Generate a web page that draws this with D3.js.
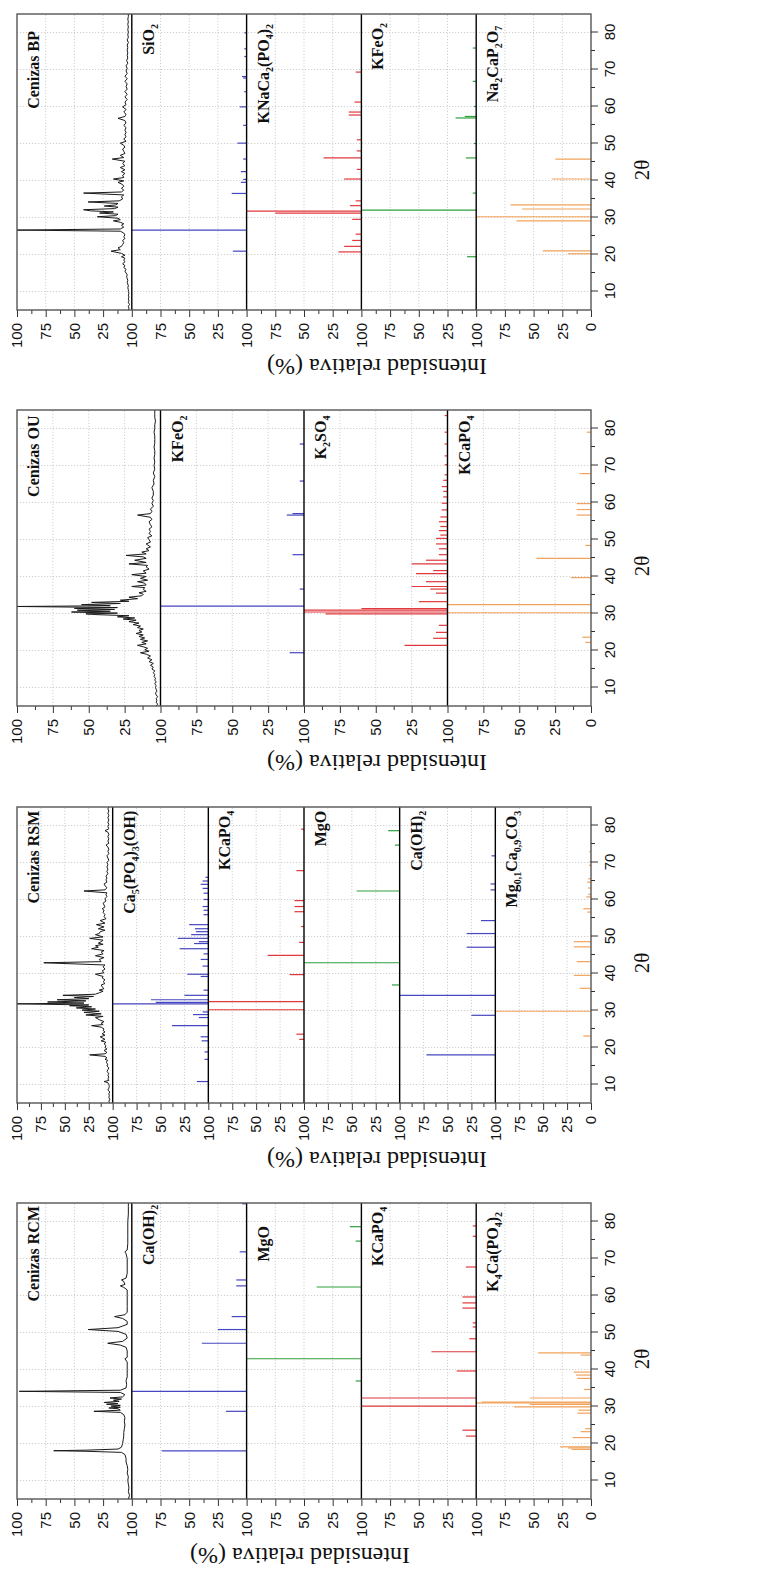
<!DOCTYPE html>
<html>
<head>
<meta charset="utf-8">
<script src="https://cdn.jsdelivr.net/npm/d3@7.9.0/dist/d3.min.js"></script>
<style>
  body { margin: 0; background: #fff; }
  svg { display: block; font-family: "Liberation Serif", "Times New Roman", serif; }
  .grid line { stroke: #c4c4c4; stroke-width: 0.8; stroke-dasharray: 1.2, 1.8; }
  .axis path { display: none; }
  .axis line { stroke: #333; }
  .axis text { font-size: 15px; fill: #111; }
</style>
</head>
<body>
<svg id="chart" width="762" height="1570"></svg>
<script>
// ---- data: [2theta, relative intensity %] ----

// Cenizas BP
const bpPattern = [[5,3],[5.5,2.5],[6,3],[6.5,2],[7,3],[7.5,2.5],[8,3],[8.5,2.5],[9,3],[9.5,2.5],[10,3],[10.5,3],[11,3.5],[11.5,3],[12,3.5],[12.5,4],[13,3.5],[13.5,4],[14,4.5],[14.5,4],[15,5],[15.5,6],[16,5],[16.5,7],[17,6],[17.5,8],[18,6],[18.5,7],[19,6],[19.4,9],[19.8,6],[20.3,9],[20.9,18],[21.3,10],[21.8,12],[22.2,9],[22.7,8],[23.2,7],[23.8,8],[24.3,6],[24.8,7],[25.3,6],[25.8,7],[26.3,10],[26.6,100],[26.9,10],[27.4,7],[27.9,9],[28.3,7],[28.7,10],[29.1,16],[29.4,10],[29.8,12],[30.2,30],[30.5,14],[30.9,12],[31.2,28],[31.5,16],[31.8,36],[32.1,42],[32.4,15],[32.8,12],[33.1,24],[33.4,14],[33.8,12],[34.2,38],[34.5,11],[35,8],[35.6,9],[36.1,7],[36.6,42],[36.9,9],[37.4,7],[37.9,9],[38.4,7],[38.9,8],[39.5,12],[39.9,7],[40.4,16],[40.8,7],[41.4,8],[41.9,6],[42.4,9],[42.9,6],[43.5,10],[44,6],[44.6,8],[45.2,6],[45.8,17],[46.2,7],[46.8,10],[47.3,6],[47.9,7],[48.5,8],[49,6],[49.5,7],[50.1,10],[50.6,5],[51.2,7],[51.8,5],[52.4,6],[53,5],[53.6,6],[54.3,5],[54.9,7],[55.5,5],[56.2,6],[56.8,12],[57.3,6],[57.9,5],[58.5,7],[59.2,5],[59.9,8],[60.5,5],[61.2,6],[61.9,4],[62.6,6],[63.3,4],[64,6],[64.7,4],[65.4,5],[66.1,4],[66.8,6],[67.5,4],[68.2,6],[68.9,4],[69.6,5],[70.3,4],[71,5],[71.7,3.5],[72.4,4.5],[73.1,3.5],[73.8,4],[74.5,3.5],[75.2,4],[75.9,3.5],[76.6,4],[77.3,3],[78,4],[78.7,3],[79.4,3.5],[80.1,3],[80.8,3.5],[81.5,3],[82.2,3.5],[82.9,3],[83.6,3.5],[84.3,3],[85,3]];
const bpSiO2 = [[20.9,12],[26.6,100],[36.5,13],[39.5,5],[40.3,3],[42.4,5],[45.8,3],[50.1,8],[54.9,3],[59.9,6],[64.0,2],[67.7,3],[68.1,4],[73.5,2],[75.6,2],[79.9,2]];
const bpKNaCa = [[20.7,20],[22.2,15],[23.8,8],[25.5,5],[29.5,8],[31.2,75],[31.7,100],[33.2,10],[34.5,5],[40.4,15],[43.0,4],[46.1,33],[48.0,4],[51.0,4],[57.7,11],[58.5,11],[61.2,6],[69.3,5]];
const bpKFeO2 = [[19.4,8],[32.0,100],[36.6,3],[46.1,9],[50.0,2],[56.9,18],[57.3,10],[60.0,2],[66.8,3],[75.8,3]];
const bpNaCaP = [[20.2,20],[21.0,42],[29.1,65],[30.2,100],[32.3,60],[33.4,70],[40.4,34],[45.8,31]];

// Cenizas OU
const ouPattern = [[5,3],[5.5,2],[6,3],[6.5,2.5],[7,3],[7.5,2],[8,3],[8.5,3.5],[9,2.5],[9.5,3],[10,3.5],[10.5,3],[11,4],[11.5,3],[12,4],[12.5,3.5],[13,4.5],[13.5,4],[14,5],[14.5,4],[15,6],[15.5,5],[16,7],[16.5,5],[17,8],[17.5,6],[18,9],[18.5,7],[19,10],[19.4,14],[19.8,8],[20.2,11],[20.6,9],[21,12],[21.4,16],[21.8,10],[22.2,13],[22.6,9],[23,14],[23.4,11],[23.8,15],[24.2,12],[24.6,17],[25,13],[25.4,15],[25.8,12],[26.2,16],[26.6,14],[27,19],[27.4,15],[27.8,22],[28.2,17],[28.5,26],[28.8,18],[29.1,30],[29.4,22],[29.7,45],[29.9,52],[30.1,30],[30.4,62],[30.6,35],[30.9,58],[31.1,32],[31.4,60],[31.6,30],[31.9,100],[32.1,35],[32.4,55],[32.7,28],[33,48],[33.3,22],[33.6,28],[34,16],[34.4,22],[34.8,13],[35.2,12],[35.6,15],[36,10],[36.5,12],[37,11],[37.3,20],[37.7,10],[38.2,11],[38.6,16],[39,9],[39.5,14],[40,10],[40.5,20],[40.9,10],[41.5,12],[42,8],[42.6,10],[43,9],[43.4,22],[43.8,10],[44.4,18],[44.9,10],[45.3,12],[45.7,24],[46.1,10],[46.6,13],[47,8],[47.5,10],[48,7],[48.8,10],[49.3,7],[50,8],[50.5,9],[51,6],[51.6,8],[52.2,7],[52.8,8],[53.4,6],[54,7],[54.8,8],[55.4,6],[56,7],[56.6,16],[57,7],[57.6,6],[58.2,7],[59,5],[59.8,6],[60.5,5],[61.2,6],[62,5],[63,5],[64,6],[65,4.5],[66,5],[67,4],[68,5],[69,4],[70,4.5],[71,4],[72,4.5],[73,4],[74,4],[75,4.5],[76,4],[77,4],[78,4],[79,4.5],[80,4],[81,4],[82,3.5],[83,4],[84,4],[85,4]];
const ouKFeO2 = [[19.4,10],[32.0,100],[36.6,3],[45.9,8],[56.6,12],[57.0,8],[65.8,3],[75.8,3]];
const ouK2SO4 = [[21.4,30],[23.3,10],[24.9,8],[26.8,6],[29.9,85],[30.4,100],[30.9,100],[31.3,60],[33.2,20],[35.5,8],[36.6,12],[37.3,25],[38.6,15],[40.8,22],[41.6,10],[43.4,25],[44.4,15],[45.9,6],[47.5,6],[48.8,8],[50.3,8],[51.2,5],[52.4,6],[53.5,5],[54.8,6],[56.1,5],[58.0,4],[59.8,4],[61.5,3],[63.0,3],[64.3,4],[66.0,3],[67.5,2],[70.2,2],[72.6,2],[75.8,2],[79.0,2],[83.5,2]];
const ouKCaPO4 = [[22.2,4],[23.6,6],[30.2,100],[32.4,100],[39.7,14],[44.9,38],[48.4,4],[56.6,10],[58.1,10],[59.7,10],[67.8,8],[79.0,3]];

// Cenizas RSM
const rsmPattern = [[5,3],[5.5,4],[6,3],[6.5,4],[7,3.5],[7.5,4],[8,3],[8.5,5],[9,4],[9.5,3.5],[10,4],[10.5,5],[10.8,9],[11.1,4],[11.5,5],[12,4],[12.5,5],[13,4],[13.5,6],[14,5],[14.5,4],[15,6],[15.5,5],[16,7],[16.5,5],[16.8,8],[17.2,6],[17.6,8],[18,24],[18.3,8],[18.7,6],[19.2,9],[19.6,6],[20,8],[20.5,7],[21,9],[21.4,7],[21.8,12],[22.2,8],[22.9,13],[23.3,8],[23.7,11],[24.2,8],[24.6,10],[25,9],[25.5,12],[25.9,22],[26.2,10],[26.6,12],[27,9],[27.5,14],[28.1,18],[28.4,10],[28.8,28],[29.1,12],[29.5,30],[29.8,14],[30.1,32],[30.4,18],[30.7,38],[31,22],[31.3,45],[31.5,25],[31.8,100],[32,30],[32.3,68],[32.6,28],[32.9,58],[33.2,25],[33.5,40],[33.8,20],[34.1,52],[34.4,18],[34.8,14],[35.2,10],[35.5,14],[35.9,9],[36.4,11],[36.9,12],[37.3,8],[37.8,10],[38.3,8],[38.8,11],[39.2,10],[39.8,18],[40.2,9],[40.7,11],[41.2,8],[41.8,10],[42.3,8],[42.9,72],[43.2,12],[43.8,14],[44.3,9],[44.8,18],[45.3,10],[45.8,12],[46.2,9],[46.7,22],[47.1,15],[47.5,18],[47.9,10],[48.2,15],[48.6,12],[49,10],[49.5,24],[49.9,10],[50.5,18],[50.8,14],[51.3,13],[51.7,8],[52.1,15],[52.6,9],[53.2,17],[53.6,8],[54.3,13],[54.8,7],[55.4,9],[55.9,8],[56.5,10],[57.1,9],[57.5,11],[58,8],[58.5,9],[59,10],[59.6,7],[60.2,8],[60.8,6],[61.3,7],[61.8,6],[62.3,30],[62.6,8],[63.2,6],[63.7,8],[64.2,9],[64.7,6],[65.3,7],[65.8,6],[66.3,7],[67,5],[67.6,6],[68.2,5],[68.8,6],[69.4,5],[70,6],[70.6,4],[71.2,5],[71.8,6],[72.4,4],[73,5],[73.6,4],[74.2,5],[74.7,7],[75.2,4],[75.8,5],[76.4,4],[77,5],[77.6,4],[78.2,5],[78.6,8],[79.1,4],[79.7,5],[80.3,4],[80.9,5],[81.5,4],[82.1,5],[82.7,4],[83.3,5],[83.9,4],[84.5,5],[85,4]];
const rsmHap = [[10.8,12],[16.8,4],[18.8,4],[21.8,7],[22.9,8],[25.9,38],[28.1,10],[28.9,16],[29.6,6],[31.8,100],[32.2,55],[32.9,60],[34.1,25],[35.5,5],[39.2,8],[39.8,22],[42.0,6],[43.8,8],[45.3,5],[46.7,30],[48.1,15],[48.6,10],[49.5,32],[50.5,18],[51.3,13],[52.1,14],[53.2,20],[55.9,5],[57.1,5],[58.1,6],[60.0,5],[61.7,5],[63.0,6],[64.1,8],[65.0,6],[66.0,3]];
const rsmKCaPO4 = [[22.2,5],[23.6,8],[30.2,100],[32.4,100],[39.7,15],[44.9,38],[48.4,5],[52.7,3],[56.7,10],[58.1,10],[59.7,10],[67.8,8],[79.0,3]];
const rsmMgO = [[36.9,8],[42.9,100],[62.3,45],[74.7,5],[78.6,12]];
const rsmCaOH2 = [[18.0,72],[28.7,25],[34.1,100],[47.1,30],[50.8,30],[54.3,15],[62.6,5],[64.2,5],[71.8,4]];
const rsmCalcite = [[23.1,8],[29.8,100],[36.0,12],[39.5,18],[43.2,15],[47.2,18],[48.6,18],[56.6,4],[57.5,8],[60.7,5],[61.4,3],[63.1,3],[64.7,4],[65.6,3],[69.2,2],[70.2,2],[72.9,2]];

// Cenizas RCM
const rcmPattern = [[5,3],[6,2],[7,3],[8,2.5],[9,3],[10,3.5],[11,3],[12,4],[13,3.5],[14,4],[15,5],[16,5],[17,6],[17.6,9],[17.9,40],[18.05,68],[18.2,40],[18.5,12],[19,9],[20,8],[21,7.5],[22,7],[23,7],[24,6.5],[25,6],[26,6.5],[27,6],[27.8,7],[28.4,10],[28.7,33],[29,10],[29.4,12],[29.6,20],[29.8,10],[30.1,18],[30.3,10],[30.6,22],[30.8,12],[31.1,24],[31.4,11],[31.7,16],[32,9],[32.3,19],[32.6,8],[33.2,6],[33.8,10],[34.1,98],[34.4,10],[35,5],[36,4.5],[37,5],[38,4],[39,4],[40,4],[41,4],[42,4],[42.9,6],[43.3,4],[44,4],[45,4],[46,5],[46.6,10],[47.1,21],[47.6,8],[48.5,4],[49.5,5],[50.3,12],[50.8,38],[51.3,12],[52.2,4],[53,4],[53.8,8],[54.3,15],[54.8,6],[55.5,4],[57,4],[58.5,4],[60,4],[61.5,4],[62.2,7],[62.6,10],[63,6],[63.8,7],[64.2,9],[64.7,5],[66,4],[68,4],[70,4],[71.3,5],[71.8,6],[72.3,4],[74,3.5],[76,3.5],[78,3.5],[80,3.5],[82,3],[84,3],[85,3]];
const rcmCaOH2 = [[18.0,74],[28.7,18],[34.1,100],[47.1,39],[50.8,25],[54.3,13],[62.6,9],[64.2,9],[71.8,6],[84.8,4]];
const rcmMgO = [[36.9,5],[42.9,100],[62.3,39],[74.7,5],[78.6,10]];
const rcmKCaPO4 = [[22.0,9],[23.6,12],[30.1,100],[32.3,100],[39.6,17],[44.8,39],[48.3,6],[51.5,3],[52.6,3],[56.6,12],[58.0,12],[59.6,12],[67.7,9],[76.0,3],[78.8,3]];
const rcmK4CaPO42 = [[18.4,17],[18.8,20],[19.1,27],[21.6,16],[23.2,9],[24.0,5],[28.2,12],[29.0,11],[29.9,67],[30.6,53],[31.0,100],[31.2,95],[32.3,53],[34.6,6],[37.6,12],[38.5,13],[39.3,15],[43.9,9],[44.5,46]];

const thetaTicks = [10, 20, 30, 40, 50, 60, 70, 80];
const intensityTicks = [25, 50, 75, 100];
const axisTitle = 'Intensidad relativa (%)';

const col = { black: '#1a1a1a', blue: '#4646c0', red: '#e0383c', green: '#2e9e3e', orange: '#f2a25a' };

// panels from top of the page to bottom; labels use _x / _{..} for subscripts
const panels = [
  { top: 14, titleX: 377, series: [
    { label: 'Cenizas BP', data: bpPattern, color: col.black, line: true, end: 80.4 },
    { label: 'SiO_2', data: bpSiO2, color: col.blue, end: 82.3 },
    { label: 'KNaCa_2(PO_4)_2', data: bpKNaCa, color: col.red, end: 82.3 },
    { label: 'KFeO_2', data: bpKFeO2, color: col.green, end: 82.6 },
    { label: 'Na_2CaP_2O_7', data: bpNaCaP, color: col.orange, end: 81.8 } ] },
  { top: 410, titleX: 377, series: [
    { label: 'Cenizas OU', data: ouPattern, color: col.black, line: true, end: 83.5 },
    { label: 'KFeO_2', data: ouKFeO2, color: col.blue, end: 83.5 },
    { label: 'K_2SO_4', data: ouK2SO4, color: col.red, end: 83.5 },
    { label: 'KCaPO_4', data: ouKCaPO4, color: col.orange, end: 83.5 } ] },
  { top: 807, titleX: 377, series: [
    { label: 'Cenizas RSM', data: rsmPattern, color: col.black, line: true, end: 84 },
    { label: 'Ca_5(PO_4)_3(OH)', data: rsmHap, color: col.blue, end: 84 },
    { label: 'KCaPO_4', data: rsmKCaPO4, color: col.red, end: 84 },
    { label: 'MgO', data: rsmMgO, color: col.green, end: 84 },
    { label: 'Ca(OH)_2', data: rsmCaOH2, color: col.blue, end: 84 },
    { label: 'Mg_{0,1}Ca_{0,9}CO_3', data: rsmCalcite, color: col.orange, end: 84 } ] },
  { top: 1203, titleX: 300, series: [
    { label: 'Cenizas RCM', data: rcmPattern, color: col.black, line: true, end: 84.2 },
    { label: 'Ca(OH)_2', data: rcmCaOH2, color: col.blue, end: 84.5 },
    { label: 'MgO', data: rcmMgO, color: col.green, end: 78.8 },
    { label: 'KCaPO_4', data: rcmKCaPO4, color: col.red, end: 84 },
    { label: 'K_4Ca(PO_4)_2', data: rcmK4CaPO42, color: col.orange, end: 82.6 } ] }
];

const frameLeft = 17;
const plotW = 296;   // along 2theta (drawn vertically after rotation)
const plotH = 574;   // stacked sub-panels (drawn horizontally after rotation)

const svg = d3.select('#chart');

function splitLabel(str) {
  const parts = [];
  let buf = '';
  for (let i = 0; i < str.length; i++) {
    if (str[i] === '_') {
      if (buf) parts.push([buf, false]);
      buf = '';
      if (str[i + 1] === '{') {
        const j = str.indexOf('}', i);
        parts.push([str.slice(i + 2, j), true]);
        i = j;
      } else {
        parts.push([str[i + 1], true]);
        i++;
      }
    } else {
      buf += str[i];
    }
  }
  if (buf) parts.push([buf, false]);
  return parts;
}

function drawPanel(p) {
  const n = p.series.length;
  const h = plotH / n;
  // chart is drawn in landscape and turned a quarter turn counter-clockwise
  const g = svg.append('g')
    .attr('transform', `translate(${frameLeft},${p.top + plotW}) rotate(-90)`);

  const x = d3.scaleLinear().domain([5, 85]).range([0, plotW]);

  const grid = g.append('g').attr('class', 'grid');
  grid.selectAll('.gx')
    .data(thetaTicks)
    .join('line')
    .attr('x1', d => x(d)).attr('x2', d => x(d))
    .attr('y1', 0).attr('y2', plotH);

  p.series.forEach((s, i) => {
    const y = d3.scaleLinear().domain([0, 100]).range([(i + 1) * h, i * h]);

    grid.append('g').selectAll('line')
      .data([25, 50, 75])
      .join('line')
      .attr('x1', 0).attr('x2', plotW)
      .attr('y1', d => y(d)).attr('y2', d => y(d));

    if (s.line) {
      g.append('path')
        .datum(s.data)
        .attr('fill', 'none')
        .attr('stroke', s.color)
        .attr('stroke-width', 1)
        .attr('stroke-linejoin', 'round')
        .attr('d', d3.line().x(d => x(d[0])).y(d => y(d[1])));
    } else {
      g.append('g').selectAll('line')
        .data(s.data)
        .join('line')
        .attr('x1', d => x(d[0])).attr('x2', d => x(d[0]))
        .attr('y1', y(0)).attr('y2', d => y(d[1]))
        .attr('stroke', s.color)
        .attr('stroke-width', 1.2);
    }

    // intensity axis for this sub-panel
    const last = i === n - 1;
    g.append('g').attr('class', 'axis')
      .call(d3.axisLeft(y).tickValues(last ? [0, ...intensityTicks] : intensityTicks)
        .tickSize(7).tickPadding(6));
    g.append('g').attr('class', 'axis')
      .call(d3.axisLeft(y).tickValues([12.5, 37.5, 62.5, 87.5]).tickSize(4).tickFormat(''));

    const t = g.append('text')
      .attr('x', x(s.end))
      .attr('y', i * h + 22)
      .attr('text-anchor', 'end')
      .attr('font-weight', 'bold')
      .attr('font-size', 16)
      .attr('fill', '#111');
    let shifted = false;
    splitLabel(s.label).forEach(([txt, sub]) => {
      const ts = t.append('tspan').text(txt);
      if (sub && !shifted) { ts.attr('dy', 4).attr('font-size', 10); shifted = true; }
      else if (sub) { ts.attr('font-size', 10); }
      else if (shifted) { ts.attr('dy', -4); shifted = false; }
    });

    if (i > 0) {
      g.append('line')
        .attr('x1', 0).attr('x2', plotW)
        .attr('y1', i * h).attr('y2', i * h)
        .attr('stroke', '#000')
        .attr('stroke-width', 1.4);
    }
  });

  g.append('rect')
    .attr('width', plotW).attr('height', plotH)
    .attr('fill', 'none')
    .attr('stroke', '#555')
    .attr('stroke-width', 1.4);

  g.append('g').attr('class', 'axis')
    .attr('transform', `translate(0,${plotH})`)
    .call(d3.axisBottom(x).tickValues(thetaTicks).tickSize(7).tickPadding(6));
  g.append('g').attr('class', 'axis')
    .attr('transform', `translate(0,${plotH})`)
    .call(d3.axisBottom(x).tickValues([15, 25, 35, 45, 55, 65, 75]).tickSize(4).tickFormat(''));

  g.append('text')
    .attr('x', 140)
    .attr('y', plotH + 58)
    .attr('text-anchor', 'middle')
    .attr('font-size', 21)
    .attr('fill', '#111')
    .text('2θ');

  g.append('text')
    .attr('transform', `translate(-49,${p.titleX - frameLeft}) rotate(-90)`)
    .attr('text-anchor', 'middle')
    .attr('font-size', 24)
    .attr('fill', '#111')
    .text(axisTitle);
}

panels.forEach(drawPanel);
</script>
</body>
</html>
